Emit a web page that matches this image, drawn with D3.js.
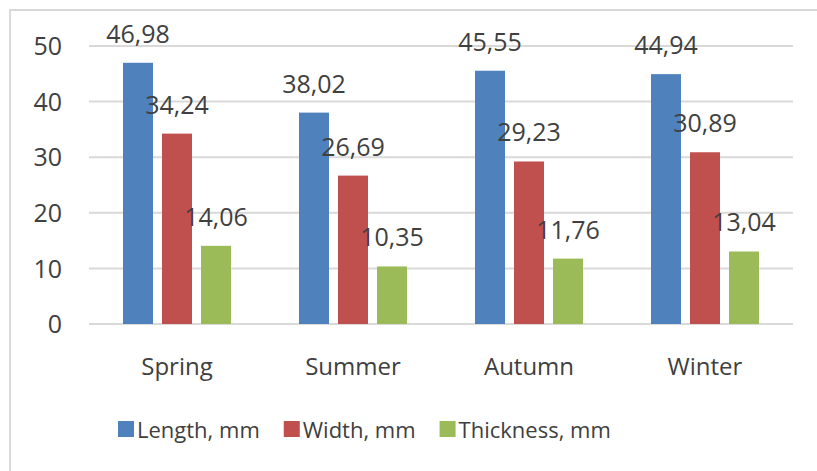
<!DOCTYPE html>
<html>
<head>
<meta charset="utf-8">
<script src="https://cdn.jsdelivr.net/npm/d3@7"></script>
<style>
  html, body { margin: 0; padding: 0; background: #fff; }
  svg text { font-family: "Open Sans", "Noto Sans", sans-serif; fill: #404040; }
</style>
</head>
<body>
<svg id="chart" width="817" height="471"></svg>
<script>
// Seasonal size measurements
const seasons = ["Spring", "Summer", "Autumn", "Winter"];
const seriesNames = ["Length, mm", "Width, mm", "Thickness, mm"];
const lengthValues = [46.98, 38.02, 45.55, 44.94];
const widthValues = [34.24, 26.69, 29.23, 30.89];
const thicknessValues = [14.06, 10.35, 11.76, 13.04];
const yTicks = [0, 10, 20, 30, 40, 50];
const colors = ["#4F81BD", "#C0504D", "#9BBB59"];

const series = [lengthValues, widthValues, thicknessValues];

const svg = d3.select("#chart");

// Chart frame
svg.append("rect")
  .attr("x", 10).attr("y", 10)
  .attr("width", 830).attr("height", 500)
  .attr("fill", "none")
  .attr("stroke", "#d9d9d9")
  .attr("stroke-width", 2);

const plot = { left: 89, right: 793, top: 46, bottom: 324 };

const x = d3.scaleBand()
  .domain(seasons)
  .range([plot.left, plot.right]);

const y = d3.scaleLinear()
  .domain([0, 50])
  .range([plot.bottom, plot.top]);

const barWidth = 30;
const barStep = 39;
const offset = i => (i - 1) * barStep;

// Horizontal gridlines
svg.append("g")
  .selectAll("line")
  .data(yTicks)
  .join("line")
  .attr("x1", plot.left).attr("x2", plot.right)
  .attr("y1", d => y(d)).attr("y2", d => y(d))
  .attr("stroke", "#d9d9d9")
  .attr("stroke-width", 2);

// Y axis labels
const yAxis = d3.axisLeft(y).tickValues(yTicks).tickSize(0).tickPadding(0);
const yG = svg.append("g")
  .attr("transform", `translate(62,0)`)
  .call(yAxis);
yG.select(".domain").remove();
yG.selectAll("text")
  .attr("font-size", 25)
  .attr("font-family", null)
  .attr("dy", "0.35em")
  .attr("fill", "#404040");

// Bars
series.forEach((vals, si) => {
  svg.append("g")
    .selectAll("rect")
    .data(seasons.map((s, i) => ({ s, v: vals[i] })))
    .join("rect")
    .attr("x", d => x(d.s) + x.bandwidth() / 2 + offset(si) - barWidth / 2)
    .attr("y", d => y(d.v))
    .attr("width", barWidth)
    .attr("height", d => y(0) - y(d.v))
    .attr("fill", colors[si]);
});

// Value labels above each bar
const fmt = v => v.toFixed(2).replace(".", ",");
series.forEach((vals, si) => {
  svg.append("g")
    .selectAll("text")
    .data(seasons.map((s, i) => ({ s, v: vals[i] })))
    .join("text")
    .attr("x", d => x(d.s) + x.bandwidth() / 2 + offset(si))
    .attr("y", d => y(d.v) - 20)
    .attr("text-anchor", "middle")
    .attr("font-size", 25)
    .text(d => fmt(d.v));
});

// Category labels
const xAxis = d3.axisBottom(x).tickSize(0).tickPadding(0);
const xG = svg.append("g")
  .attr("transform", `translate(0,375)`)
  .call(xAxis);
xG.select(".domain").remove();
xG.selectAll("text")
  .attr("font-size", 24)
  .attr("font-family", null)
  .attr("dy", 0)
  .attr("fill", "#404040");

// Legend
const legend = svg.append("g").attr("transform", "translate(118,438)");
let lx = 0;
seriesNames.forEach((name, i) => {
  const item = legend.append("g").attr("transform", `translate(${lx},0)`);
  item.append("rect")
    .attr("x", 0).attr("y", -17)
    .attr("width", 16).attr("height", 16)
    .attr("fill", colors[i]);
  const t = item.append("text")
    .attr("x", 19).attr("y", 0)
    .attr("font-size", 22)
    .text(name);
  lx += 19 + t.node().getComputedTextLength() + 24;
});
</script>
</body>
</html>
